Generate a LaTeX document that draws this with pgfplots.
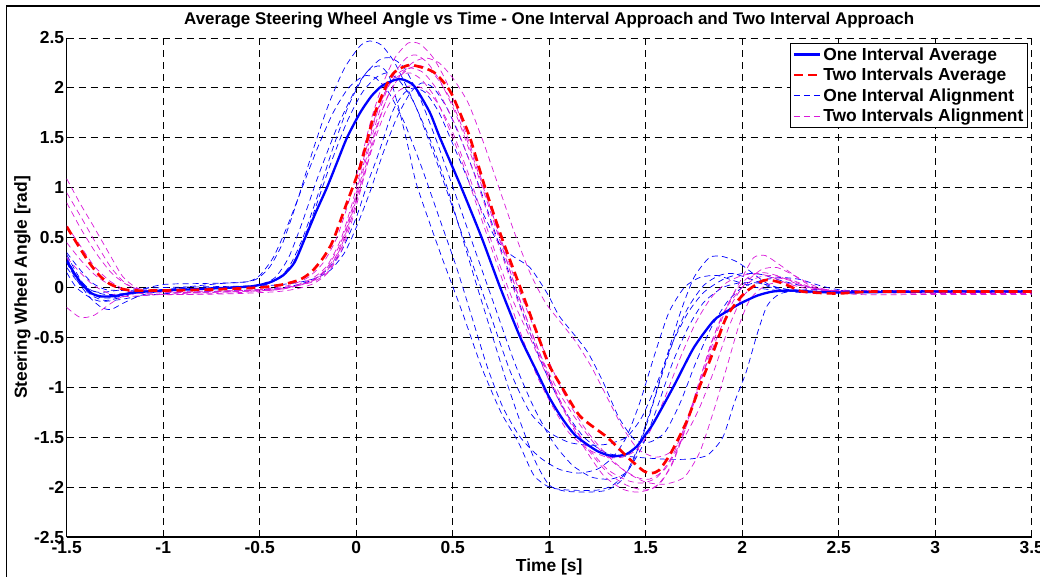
\documentclass[border=0pt]{standalone}
\usepackage{fontspec}
\setmainfont{Liberation Sans}
\usepackage{pgfplots}
\pgfplotsset{compat=1.18}
\definecolor{mag}{rgb}{0.85,0.1,0.85}
\begin{document}
\begin{tikzpicture}
\begin{axis}[
  at={(0,0)}, anchor=south west,
  scale only axis, width=965bp, height=499bp,
  xmin=-1.5, xmax=3.5, ymin=-2.5, ymax=2.5,
  xtick={-1.5,-1,-0.5,0,0.5,1,1.5,2,2.5,3,3.5},
  ytick={-2.5,-2,-1.5,-1,-0.5,0,0.5,1,1.5,2,2.5},
  axis x line*=bottom, axis y line*=left,
  axis line style={line width=1.2bp, black, -},
  tick align=inside, major tick length=5bp,
  tick style={black, line width=0.8bp},
  grid=major,
  major grid style={black, line width=0.8bp, dash pattern=on 7bp off 5bp},
  /pgf/number format/assume math mode=true,
  ticklabel style={font=\bfseries\fontsize{17.5}{19}\selectfont},
  yticklabel style={xshift=1bp},
  xticklabel style={yshift=-1bp},
  title={Average Steering Wheel Angle vs Time - One Interval Approach and Two Interval Approach},
  title style={at={(axis description cs:0.5,1.023)}, anchor=center, yshift=0pt, font=\bfseries\fontsize{17}{19}\selectfont},
  xlabel={Time [s]},
  xlabel style={at={(axis description cs:0.5,-0.06)}, anchor=center, font=\bfseries\fontsize{17.5}{19}\selectfont},
  ylabel={Steering Wheel Angle [rad]},
  ylabel style={at={(axis description cs:-0.046,0.5)}, anchor=center, font=\bfseries\fontsize{17.5}{19}\selectfont},
  legend style={at={(axis description cs:0.996,0.99)}, anchor=north east, draw=black, line width=0.8bp, fill=white,
    font=\bfseries\fontsize{17.5}{19}\selectfont, inner sep=2bp, row sep=2.5bp},
  legend cell align=left,
  legend image code/.code={\draw[#1] (0bp,0bp) -- (26bp,0bp);},
  clip=true,
]
\pgfplotsset{blt/.style={blue, line width=0.7bp, dash pattern=on 6bp off 4bp, smooth, tension=0.4, forget plot}}
\pgfplotsset{mgt/.style={mag, line width=0.7bp, dash pattern=on 6bp off 4bp, smooth, tension=0.4, forget plot}}
% ---------- One Interval Alignment traces (blue dashed) ----------
\addplot[blt] coordinates {(-1.5,0.33)(-1.45,0.15)(-1.4,0.0)(-1.33,-0.1)(-1.25,-0.1)(-1.15,-0.04)(-1.0,0.03)(-0.8,0.04)(-0.6,0.05)(-0.52,0.08)(-0.45,0.2)(-0.38,0.45)(-0.3,0.9)(-0.22,1.4)(-0.14,1.85)(-0.06,2.2)(0.02,2.42)(0.07,2.47)(0.13,2.43)(0.2,2.25)(0.3,1.85)(0.4,1.4)(0.48,0.95)(0.55,0.5)(0.62,0.05)(0.7,-0.45)(0.78,-0.95)(0.86,-1.4)(0.93,-1.75)(1.0,-1.98)(1.08,-2.04)(1.2,-2.05)(1.3,-2.03)(1.38,-1.92)(1.45,-1.65)(1.53,-1.2)(1.6,-0.75)(1.68,-0.25)(1.75,0.1)(1.83,0.3)(1.9,0.31)(1.98,0.25)(2.07,0.12)(2.15,0.02)(2.3,-0.04)(2.6,-0.04)(3.0,-0.03)(3.5,-0.03)};
\addplot[blt] coordinates {(-1.5,0.2)(-1.44,0.05)(-1.37,-0.08)(-1.3,-0.13)(-1.2,-0.09)(-1.1,-0.04)(-0.9,-0.02)(-0.65,0.0)(-0.5,0.03)(-0.42,0.1)(-0.35,0.3)(-0.28,0.65)(-0.2,1.1)(-0.1,1.6)(0.0,2.0)(0.06,2.17)(0.12,2.22)(0.17,2.12)(0.22,1.8)(0.27,1.4)(0.31,1.05)(0.38,0.65)(0.45,0.27)(0.55,-0.25)(0.65,-0.8)(0.75,-1.25)(0.84,-1.55)(0.92,-1.88)(1.0,-2.0)(1.1,-2.03)(1.25,-2.03)(1.33,-1.98)(1.42,-1.8)(1.5,-1.4)(1.58,-0.9)(1.65,-0.5)(1.72,-0.2)(1.8,0.02)(1.88,0.12)(1.95,0.14)(2.05,0.08)(2.15,0.0)(2.3,-0.05)(2.6,-0.05)(3.0,-0.04)(3.5,-0.04)};
\addplot[blt] coordinates {(-1.5,0.3)(-1.45,0.12)(-1.38,-0.02)(-1.3,-0.07)(-1.2,-0.06)(-1.0,-0.02)(-0.7,0.0)(-0.5,0.02)(-0.42,0.07)(-0.35,0.2)(-0.28,0.48)(-0.2,0.92)(-0.12,1.4)(-0.04,1.82)(0.04,2.12)(0.12,2.28)(0.18,2.3)(0.25,2.2)(0.33,1.9)(0.42,1.45)(0.52,0.9)(0.62,0.35)(0.72,-0.2)(0.82,-0.75)(0.92,-1.2)(1.02,-1.55)(1.12,-1.78)(1.22,-1.9)(1.32,-1.92)(1.4,-1.85)(1.48,-1.6)(1.56,-1.2)(1.64,-0.75)(1.72,-0.4)(1.8,-0.15)(1.9,0.0)(2.0,0.05)(2.1,0.04)(2.2,-0.01)(2.4,-0.04)(3.0,-0.04)(3.5,-0.04)};
\addplot[blt] coordinates {(-1.5,0.15)(-1.45,0.0)(-1.38,-0.1)(-1.32,-0.14)(-1.22,-0.12)(-1.1,-0.08)(-0.9,-0.05)(-0.6,-0.03)(-0.4,-0.01)(-0.3,0.03)(-0.22,0.08)(-0.15,0.18)(-0.08,0.35)(0.0,0.7)(0.06,1.05)(0.11,1.31)(0.19,1.77)(0.25,1.95)(0.3,2.0)(0.36,1.95)(0.43,1.75)(0.52,1.35)(0.62,0.9)(0.72,0.5)(0.8,0.33)(0.9,0.2)(0.99,-0.06)(1.05,-0.28)(1.12,-0.45)(1.2,-0.65)(1.28,-0.95)(1.36,-1.3)(1.44,-1.52)(1.52,-1.55)(1.6,-1.45)(1.68,-1.15)(1.76,-0.75)(1.84,-0.4)(1.92,-0.15)(2.0,0.0)(2.1,0.07)(2.2,0.1)(2.3,0.08)(2.42,0.01)(2.55,-0.03)(3.0,-0.04)(3.5,-0.04)};
\addplot[blt] coordinates {(-1.5,0.25)(-1.45,0.08)(-1.38,-0.1)(-1.32,-0.2)(-1.27,-0.22)(-1.2,-0.15)(-1.1,-0.07)(-0.9,0.0)(-0.7,0.04)(-0.56,0.06)(-0.5,0.12)(-0.43,0.3)(-0.36,0.6)(-0.28,1.0)(-0.2,1.4)(-0.12,1.75)(-0.04,2.0)(0.04,2.12)(0.1,2.1)(0.17,1.95)(0.25,1.65)(0.34,1.2)(0.43,0.7)(0.52,0.2)(0.6,-0.3)(0.68,-0.8)(0.76,-1.2)(0.85,-1.5)(0.95,-1.7)(1.05,-1.82)(1.15,-1.86)(1.25,-1.82)(1.33,-1.7)(1.4,-1.5)(1.47,-1.15)(1.55,-0.65)(1.62,-0.25)(1.7,0.0)(1.78,0.1)(1.87,0.12)(1.97,0.06)(2.1,-0.01)(2.3,-0.04)(3.0,-0.04)(3.5,-0.04)};
\addplot[blt] coordinates {(-1.5,0.35)(-1.44,0.2)(-1.37,0.05)(-1.3,-0.02)(-1.2,-0.03)(-1.0,-0.02)(-0.7,0.0)(-0.45,0.02)(-0.3,0.05)(-0.2,0.1)(-0.13,0.18)(-0.06,0.35)(0.0,0.6)(0.07,0.95)(0.14,1.35)(0.21,1.7)(0.28,1.95)(0.34,2.05)(0.4,2.0)(0.47,1.8)(0.55,1.45)(0.64,1.0)(0.72,0.55)(0.8,0.1)(0.88,-0.35)(0.97,-0.8)(1.07,-1.2)(1.18,-1.5)(1.3,-1.66)(1.45,-1.7)(1.6,-1.72)(1.72,-1.72)(1.82,-1.68)(1.9,-1.5)(1.96,-1.15)(2.02,-0.85)(2.08,-0.45)(2.13,-0.18)(2.2,-0.06)(2.35,-0.02)(2.5,-0.03)(3.0,-0.03)(3.5,-0.03)};
\addplot[blt] coordinates {(-1.5,0.25)(-1.45,0.1)(-1.4,0.0)(-1.33,-0.05)(-1.2,-0.02)(-1.0,0.0)(-0.7,0.01)(-0.5,0.02)(-0.44,0.05)(-0.36,0.15)(-0.3,0.35)(-0.22,0.75)(-0.14,1.2)(-0.05,1.65)(0.03,1.95)(0.1,2.1)(0.16,2.15)(0.22,2.08)(0.3,1.85)(0.4,1.35)(0.5,0.8)(0.6,0.25)(0.7,-0.3)(0.8,-0.85)(0.9,-1.25)(1.0,-1.45)(1.1,-1.55)(1.2,-1.58)(1.3,-1.57)(1.4,-1.5)(1.48,-1.3)(1.56,-0.95)(1.64,-0.55)(1.72,-0.25)(1.8,-0.05)(1.9,0.08)(2.0,0.14)(2.1,0.13)(2.2,0.07)(2.35,0.0)(2.5,-0.04)(3.0,-0.04)(3.5,-0.04)};
% ---------- Two Intervals Alignment traces (magenta dashed) ----------
\addplot[mgt] coordinates {(-1.5,1.09)(-1.43,0.84)(-1.36,0.61)(-1.28,0.34)(-1.21,0.11)(-1.14,0.0)(-1.05,-0.04)(-0.9,-0.05)(-0.7,-0.04)(-0.5,-0.02)(-0.35,0.02)(-0.25,0.1)(-0.17,0.25)(-0.1,0.5)(-0.04,0.85)(0.02,1.25)(0.08,1.7)(0.14,2.05)(0.2,2.3)(0.27,2.45)(0.33,2.44)(0.4,2.3)(0.47,2.05)(0.55,1.65)(0.63,1.2)(0.72,0.65)(0.8,0.15)(0.88,-0.3)(0.96,-0.7)(1.05,-1.05)(1.15,-1.35)(1.25,-1.6)(1.35,-1.78)(1.45,-1.9)(1.52,-1.92)(1.6,-1.82)(1.68,-1.55)(1.76,-1.1)(1.84,-0.6)(1.92,-0.2)(2.0,0.1)(2.06,0.3)(2.12,0.32)(2.2,0.22)(2.3,0.08)(2.4,-0.02)(2.6,-0.07)(3.0,-0.07)(3.5,-0.07)};
\addplot[mgt] coordinates {(-1.5,0.85)(-1.43,0.6)(-1.35,0.35)(-1.27,0.15)(-1.19,0.03)(-1.1,-0.03)(-0.9,-0.05)(-0.6,-0.04)(-0.4,-0.02)(-0.3,0.02)(-0.22,0.08)(-0.15,0.2)(-0.08,0.45)(-0.02,0.8)(0.04,1.25)(0.1,1.7)(0.16,2.0)(0.22,2.15)(0.28,2.2)(0.35,2.15)(0.43,1.95)(0.52,1.6)(0.6,1.2)(0.68,0.75)(0.76,0.3)(0.84,-0.15)(0.92,-0.55)(1.0,-0.9)(1.1,-1.3)(1.2,-1.62)(1.3,-1.85)(1.4,-1.98)(1.5,-2.03)(1.58,-1.95)(1.65,-1.7)(1.72,-1.3)(1.8,-0.8)(1.88,-0.35)(1.96,-0.05)(2.03,0.1)(2.1,0.15)(2.18,0.12)(2.28,0.04)(2.4,-0.02)(2.6,-0.04)(3.0,-0.04)(3.5,-0.04)};
\addplot[mgt] coordinates {(-1.5,0.45)(-1.43,0.28)(-1.35,0.12)(-1.27,0.02)(-1.18,-0.04)(-1.05,-0.07)(-0.85,-0.07)(-0.6,-0.06)(-0.4,-0.04)(-0.3,-0.01)(-0.22,0.04)(-0.15,0.14)(-0.08,0.35)(-0.02,0.68)(0.04,1.1)(0.1,1.55)(0.16,1.9)(0.22,2.1)(0.29,2.25)(0.36,2.3)(0.43,2.25)(0.5,2.1)(0.58,1.85)(0.66,1.45)(0.74,1.0)(0.82,0.55)(0.9,0.15)(0.98,-0.15)(1.06,-0.35)(1.14,-0.55)(1.22,-0.8)(1.3,-1.1)(1.38,-1.4)(1.46,-1.62)(1.55,-1.7)(1.62,-1.66)(1.7,-1.5)(1.78,-1.2)(1.86,-0.8)(1.93,-0.4)(2.0,-0.1)(2.08,0.05)(2.16,0.1)(2.25,0.07)(2.35,0.0)(2.5,-0.04)(3.0,-0.05)(3.5,-0.05)};
\addplot[mgt] coordinates {(-1.5,-0.2)(-1.43,-0.3)(-1.36,-0.28)(-1.28,-0.17)(-1.2,-0.08)(-1.1,-0.05)(-0.9,-0.04)(-0.6,-0.03)(-0.4,-0.01)(-0.3,0.02)(-0.22,0.06)(-0.15,0.15)(-0.08,0.38)(-0.02,0.72)(0.04,1.12)(0.1,1.5)(0.16,1.8)(0.22,1.97)(0.28,2.02)(0.34,2.0)(0.41,1.88)(0.49,1.6)(0.57,1.2)(0.65,0.75)(0.73,0.3)(0.81,-0.12)(0.9,-0.5)(0.98,-0.85)(1.08,-1.25)(1.18,-1.6)(1.28,-1.88)(1.38,-2.02)(1.46,-2.05)(1.55,-2.0)(1.63,-1.8)(1.7,-1.45)(1.77,-1.0)(1.84,-0.55)(1.92,-0.2)(2.0,0.0)(2.08,0.1)(2.16,0.12)(2.25,0.08)(2.35,0.01)(2.5,-0.03)(3.0,-0.03)(3.5,-0.03)};
\addplot[mgt] coordinates {(-1.5,0.62)(-1.43,0.42)(-1.36,0.22)(-1.28,0.07)(-1.2,-0.02)(-1.1,-0.06)(-0.9,-0.07)(-0.6,-0.05)(-0.4,-0.02)(-0.3,0.03)(-0.22,0.1)(-0.15,0.22)(-0.08,0.48)(-0.02,0.85)(0.04,1.3)(0.1,1.72)(0.16,2.0)(0.22,2.12)(0.28,2.15)(0.34,2.08)(0.41,1.9)(0.48,1.6)(0.55,1.25)(0.62,0.85)(0.7,0.4)(0.78,-0.05)(0.86,-0.5)(0.94,-0.9)(1.02,-1.2)(1.1,-1.45)(1.2,-1.62)(1.3,-1.7)(1.38,-1.7)(1.45,-1.63)(1.52,-1.45)(1.6,-1.1)(1.68,-0.7)(1.76,-0.35)(1.84,-0.1)(1.92,0.05)(2.0,0.12)(2.08,0.14)(2.16,0.1)(2.25,0.03)(2.4,-0.03)(2.7,-0.04)(3.0,-0.04)(3.5,-0.04)};
\addplot[mgt] coordinates {(-1.5,0.3)(-1.43,0.15)(-1.36,0.02)(-1.28,-0.06)(-1.2,-0.09)(-1.1,-0.08)(-0.9,-0.06)(-0.6,-0.04)(-0.4,-0.02)(-0.3,0.02)(-0.22,0.07)(-0.15,0.17)(-0.08,0.4)(-0.02,0.75)(0.04,1.15)(0.1,1.58)(0.16,1.9)(0.22,2.1)(0.28,2.2)(0.34,2.22)(0.41,2.12)(0.49,1.88)(0.57,1.5)(0.65,1.05)(0.73,0.6)(0.81,0.15)(0.9,-0.3)(1.0,-0.75)(1.1,-1.15)(1.2,-1.45)(1.3,-1.68)(1.4,-1.85)(1.5,-1.95)(1.6,-1.97)(1.7,-1.9)(1.78,-1.65)(1.85,-1.25)(1.92,-0.8)(1.98,-0.4)(2.04,-0.12)(2.12,0.02)(2.2,0.05)(2.3,0.02)(2.45,-0.03)(2.7,-0.05)(3.0,-0.05)(3.5,-0.05)};
\addplot[mgt] coordinates {(-1.5,0.95)(-1.43,0.72)(-1.35,0.45)(-1.27,0.2)(-1.2,0.05)(-1.12,-0.03)(-0.95,-0.05)(-0.7,-0.04)(-0.45,-0.02)(-0.33,0.01)(-0.25,0.05)(-0.18,0.13)(-0.1,0.33)(-0.04,0.65)(0.02,1.05)(0.08,1.5)(0.14,1.88)(0.2,2.15)(0.26,2.3)(0.31,2.33)(0.37,2.25)(0.44,2.05)(0.52,1.72)(0.6,1.3)(0.68,0.85)(0.76,0.38)(0.84,-0.08)(0.92,-0.5)(1.0,-0.9)(1.1,-1.3)(1.2,-1.6)(1.3,-1.82)(1.4,-1.93)(1.48,-1.96)(1.56,-1.9)(1.64,-1.68)(1.72,-1.3)(1.8,-0.85)(1.88,-0.45)(1.95,-0.15)(2.02,0.05)(2.1,0.18)(2.18,0.2)(2.27,0.12)(2.37,0.02)(2.5,-0.04)(3.0,-0.06)(3.5,-0.06)};
% ---------- Averages ----------
\addplot[blue, line width=2.3bp, smooth, tension=0.4] coordinates {(-1.5,0.27)(-1.46,0.14)(-1.42,0.03)(-1.37,-0.06)(-1.32,-0.09)(-1.25,-0.085)(-1.15,-0.05)(-1.0,-0.03)(-0.75,-0.01)(-0.55,0.01)(-0.45,0.05)(-0.38,0.12)(-0.32,0.25)(-0.264,0.5)(-0.21,0.75)(-0.152,1.0)(-0.1,1.25)(-0.048,1.5)(0.02,1.75)(0.08,1.92)(0.133,2.02)(0.2,2.08)(0.24,2.085)(0.3,2.02)(0.38,1.76)(0.434,1.5)(0.545,1.0)(0.65,0.5)(0.746,0.0)(0.85,-0.5)(0.93,-0.82)(1.0,-1.1)(1.07,-1.32)(1.14,-1.49)(1.25,-1.64)(1.33,-1.69)(1.4,-1.67)(1.455,-1.59)(1.5,-1.47)(1.54,-1.36)(1.645,-0.99)(1.75,-0.6)(1.853,-0.33)(1.92,-0.24)(1.99,-0.16)(2.08,-0.08)(2.16,-0.04)(2.26,-0.03)(2.35,-0.04)(2.5,-0.05)(3.0,-0.04)(3.5,-0.04)};
\addlegendentry{One Interval Average}
\addplot[red, line width=2.7bp, dash pattern=on 9bp off 5bp, smooth, tension=0.4] coordinates {(-1.5,0.61)(-1.44,0.42)(-1.38,0.24)(-1.33,0.12)(-1.28,0.04)(-1.22,-0.01)(-1.16,-0.03)(-1.0,-0.03)(-0.75,-0.02)(-0.5,0.0)(-0.38,0.03)(-0.29,0.08)(-0.23,0.16)(-0.17,0.3)(-0.12,0.47)(-0.05,0.84)(0.02,1.21)(0.09,1.71)(0.16,2.04)(0.2,2.16)(0.28,2.23)(0.4,2.16)(0.486,1.97)(0.555,1.67)(0.59,1.5)(0.668,1.0)(0.754,0.5)(0.85,0.0)(0.945,-0.5)(1.0,-0.78)(1.066,-1.0)(1.16,-1.29)(1.3,-1.5)(1.4,-1.69)(1.49,-1.84)(1.53,-1.86)(1.57,-1.83)(1.63,-1.66)(1.715,-1.33)(1.78,-0.99)(1.853,-0.63)(1.92,-0.29)(2.01,-0.06)(2.11,0.07)(2.18,0.06)(2.25,0.01)(2.31,-0.04)(2.49,-0.06)(2.7,-0.04)(3.5,-0.04)};
\addlegendentry{Two Intervals Average}
\addlegendimage{blue, line width=0.7bp, dash pattern=on 6bp off 4bp}
\addlegendentry{One Interval Alignment}
\addlegendimage{mag, line width=0.7bp, dash pattern=on 6bp off 4bp}
\addlegendentry{Two Intervals Alignment}
\end{axis}
\draw[black, line width=1.3bp] (-60bp,-45bp) -- (-60bp,531bp) -- (980bp,531bp);
\pgfresetboundingbox
\path[use as bounding box] (-66.7bp,-40bp) rectangle (973.3bp,537bp);
\end{tikzpicture}
\end{document}
